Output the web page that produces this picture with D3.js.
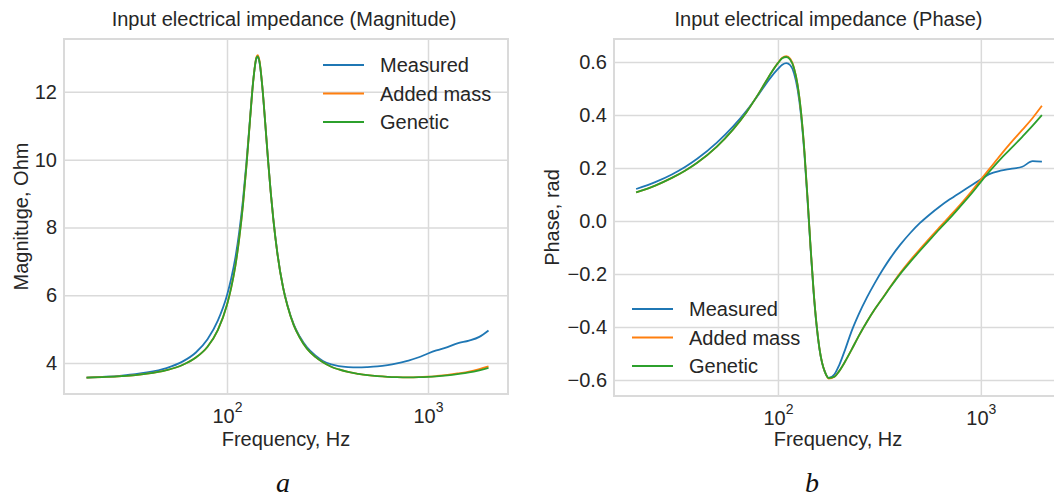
<!DOCTYPE html>
<html>
<head>
<meta charset="utf-8">
<script src="https://cdn.jsdelivr.net/npm/d3@7"></script>
<style>
  body { margin: 0; background: #ffffff; }
  svg { display: block; font-family: "Liberation Sans", Arial, sans-serif; }
</style>
</head>
<body>
<svg id="chart" width="1054" height="500"></svg>
<script>
// frequency grid, Hz
const freqs = [20, 25, 30, 35, 40, 50, 60, 70, 80, 90,
  100, 105, 110, 115, 120, 125, 130, 135, 140, 142,
  145, 150, 155, 160, 165, 170, 178, 190, 200, 215,
  230, 250, 275, 300, 330, 360, 400, 450, 500, 560,
  630, 700, 800, 900, 1000, 1100, 1250, 1400, 1600, 1800, 2000];

// |Z|, Ohm
const magMeasured = [3.57, 3.595, 3.63, 3.67, 3.72, 3.85, 4.04, 4.31, 4.7, 5.25,
  6.0, 6.5, 7.1, 7.86, 8.8, 9.93, 11.17, 12.33, 12.98, 13.03,
  12.88, 12.12, 11.06, 9.99, 9.04, 8.25, 7.25, 6.24, 5.7, 5.13,
  4.78, 4.46, 4.22, 4.06, 3.96, 3.91, 3.88, 3.87, 3.88, 3.9,
  3.94, 3.99, 4.07, 4.17, 4.28, 4.37, 4.47, 4.58, 4.66, 4.77, 4.96];
const magAdded = [3.57, 3.59, 3.615, 3.645, 3.685, 3.79, 3.94, 4.16, 4.48, 4.97,
  5.72, 6.23, 6.86, 7.67, 8.65, 9.83, 11.13, 12.31, 13.02, 13.08,
  12.93, 12.13, 11.07, 9.99, 9.04, 8.24, 7.24, 6.23, 5.68, 5.11,
  4.75, 4.42, 4.18, 4.02, 3.89, 3.81, 3.735, 3.68, 3.64, 3.61,
  3.59, 3.58, 3.575, 3.58, 3.595, 3.615, 3.648, 3.69, 3.745, 3.82, 3.9];
const magGenetic = [3.57, 3.59, 3.615, 3.645, 3.685, 3.79, 3.94, 4.16, 4.48, 4.97,
  5.72, 6.23, 6.86, 7.67, 8.65, 9.83, 11.13, 12.31, 13.0, 13.05,
  12.9, 12.13, 11.07, 9.99, 9.04, 8.24, 7.24, 6.23, 5.68, 5.11,
  4.75, 4.42, 4.18, 4.02, 3.89, 3.81, 3.735, 3.68, 3.64, 3.61,
  3.59, 3.58, 3.575, 3.58, 3.59, 3.605, 3.635, 3.67, 3.72, 3.785, 3.855];

// phase, rad
const phaseMeasured = [0.121, 0.148, 0.176, 0.205, 0.235, 0.296, 0.356, 0.416, 0.476, 0.532,
  0.574, 0.59, 0.596, 0.588, 0.558, 0.497, 0.398, 0.255, 0.075, 0.0,
  -0.11, -0.272, -0.394, -0.48, -0.535, -0.567, -0.592, -0.578, -0.545, -0.482,
  -0.418, -0.352, -0.287, -0.234, -0.181, -0.137, -0.09, -0.044, -0.008, 0.025,
  0.056, 0.081, 0.11, 0.135, 0.158, 0.177, 0.19, 0.197, 0.205, 0.226, 0.224];
const phaseAdded = [0.108, 0.135, 0.163, 0.191, 0.22, 0.281, 0.345, 0.411, 0.479, 0.544,
  0.597, 0.616, 0.622, 0.612, 0.578, 0.514, 0.411, 0.265, 0.084, 0.008,
  -0.104, -0.267, -0.391, -0.478, -0.534, -0.567, -0.594, -0.587, -0.567, -0.528,
  -0.487, -0.434, -0.379, -0.333, -0.287, -0.245, -0.196, -0.147, -0.107, -0.064,
  -0.021, 0.017, 0.066, 0.112, 0.157, 0.196, 0.249, 0.294, 0.344, 0.389, 0.435];
const phaseGenetic = [0.108, 0.135, 0.163, 0.191, 0.22, 0.281, 0.345, 0.411, 0.479, 0.544,
  0.596, 0.614, 0.619, 0.609, 0.577, 0.514, 0.411, 0.265, 0.084, 0.008,
  -0.104, -0.267, -0.391, -0.478, -0.534, -0.567, -0.592, -0.587, -0.567, -0.528,
  -0.487, -0.434, -0.379, -0.333, -0.288, -0.247, -0.2, -0.153, -0.113, -0.071,
  -0.028, 0.009, 0.059, 0.104, 0.148, 0.186, 0.234, 0.272, 0.318, 0.36, 0.40];

const seriesNames = ["Measured", "Added mass", "Genetic"];
const magTicks = [4, 6, 8, 10, 12];
const phaseTicks = [-0.6, -0.4, -0.2, 0.0, 0.2, 0.4, 0.6];
const freqTicks = [100, 1000];

// tab10 colours, seaborn whitegrid look
const lineColors = ["#1f77b4", "#ff7f0e", "#2ca02c"];
const textColor = "#262626";
const gridColor = "#dadada";
const fontSize = "20px";

const svg = d3.select("#chart");

const toPoints = (values) => freqs.map((f, i) => ({ f: f, v: values[i] }));

const drawPanel = (cfg) => {
  const x = d3.scaleLog().domain(cfg.xDomain).range([cfg.left, cfg.right]);
  const y = d3.scaleLinear().domain(cfg.yDomain).range([cfg.bottom, cfg.top]);
  const g = svg.append("g");

  // horizontal grid + y labels
  g.append("g")
    .attr("transform", `translate(${cfg.left},0)`)
    .call(d3.axisLeft(y)
      .tickValues(cfg.yTicks)
      .tickSize(-(cfg.right - cfg.left))
      .tickPadding(7)
      .tickFormat(cfg.yFormat))
    .call((a) => a.select(".domain").remove())
    .call((a) => a.selectAll("line").attr("stroke", gridColor).attr("stroke-width", 1.5))
    .call((a) => a.selectAll("text")
      .attr("fill", textColor)
      .style("font-size", fontSize)
      .style("font-family", "Liberation Sans, Arial, sans-serif"));

  // vertical grid + 10^n labels
  const xAxis = g.append("g")
    .attr("transform", `translate(0,${cfg.bottom})`)
    .call(d3.axisBottom(x)
      .tickValues(freqTicks)
      .tickSize(-(cfg.bottom - cfg.top))
      .tickFormat(""))
    .call((a) => a.select(".domain").remove())
    .call((a) => a.selectAll("line").attr("stroke", gridColor).attr("stroke-width", 1.5));

  xAxis.selectAll(".tick").each(function (d) {
    const t = d3.select(this).append("text")
      .attr("y", 29)
      .attr("text-anchor", "middle")
      .attr("fill", textColor)
      .style("font-family", "Liberation Sans, Arial, sans-serif");
    t.append("tspan").style("font-size", fontSize).text("10");
    t.append("tspan")
      .attr("dy", -11)
      .style("font-size", "14px")
      .text(String(Math.round(Math.log10(d))));
  });

  // frame
  g.append("rect")
    .attr("x", cfg.left)
    .attr("y", cfg.top)
    .attr("width", cfg.right - cfg.left)
    .attr("height", cfg.bottom - cfg.top)
    .attr("fill", "none")
    .attr("stroke", gridColor)
    .attr("stroke-width", 2);

  // curves
  const line = d3.line()
    .x((p) => x(p.f))
    .y((p) => y(p.v))
    .curve(d3.curveMonotoneX);

  cfg.series.forEach((values, i) => {
    g.append("path")
      .datum(toPoints(values))
      .attr("d", line)
      .attr("fill", "none")
      .attr("stroke", lineColors[i])
      .attr("stroke-width", 1.8);
  });

  // title
  g.append("text")
    .attr("x", cfg.titleX)
    .attr("y", 25.5)
    .attr("text-anchor", "middle")
    .attr("fill", textColor)
    .style("font-size", fontSize)
    .text(cfg.title);

  // x label
  g.append("text")
    .attr("x", (cfg.left + cfg.right) / 2)
    .attr("y", 446)
    .attr("text-anchor", "middle")
    .attr("fill", textColor)
    .style("font-size", fontSize)
    .text("Frequency, Hz");

  // y label
  g.append("text")
    .attr("transform", `translate(${cfg.ylabelX},${(cfg.top + cfg.bottom) / 2}) rotate(-90)`)
    .attr("text-anchor", "middle")
    .attr("fill", textColor)
    .style("font-size", fontSize)
    .text(cfg.ylabel);

  // legend
  seriesNames.forEach((name, i) => {
    const ly = cfg.legendY + i * 28.5;
    g.append("line")
      .attr("x1", cfg.legendX)
      .attr("x2", cfg.legendX + 41)
      .attr("y1", ly)
      .attr("y2", ly)
      .attr("stroke", lineColors[i])
      .attr("stroke-width", 2);
    g.append("text")
      .attr("x", cfg.legendX + 57)
      .attr("y", ly + 7)
      .attr("fill", textColor)
      .style("font-size", fontSize)
      .text(name);
  });

  // sub caption
  g.append("text")
    .attr("x", cfg.captionX)
    .attr("y", 492)
    .attr("text-anchor", "middle")
    .attr("fill", "#111111")
    .style("font-family", "Liberation Serif, Times New Roman, serif")
    .style("font-style", "italic")
    .style("font-size", "28px")
    .text(cfg.caption);
};

const minusFormat = (d) => d3.format(".1f")(d).replace("-", "\u2212");

drawPanel({
  left: 64, right: 508, top: 39, bottom: 394,
  xDomain: [Math.pow(10, 1.189), Math.pow(10, 3.398)],
  yDomain: [3.085, 13.56],
  yTicks: magTicks,
  yFormat: d3.format("d"),
  series: [magMeasured, magAdded, magGenetic],
  title: "Input electrical impedance (Magnitude)",
  titleX: 284,
  ylabel: "Magnituge, Ohm",
  ylabelX: 28,
  legendX: 323,
  legendY: 65,
  caption: "a",
  captionX: 283
});

drawPanel({
  left: 614, right: 1062, top: 39, bottom: 396,
  xDomain: [Math.pow(10, 1.192), Math.pow(10, 3.4)],
  yDomain: [-0.66, 0.687],
  yTicks: phaseTicks,
  yFormat: minusFormat,
  series: [phaseMeasured, phaseAdded, phaseGenetic],
  title: "Input electrical impedance (Phase)",
  titleX: 828.5,
  ylabel: "Phase, rad",
  ylabelX: 559,
  legendX: 632,
  legendY: 309,
  caption: "b",
  captionX: 812
});
</script>
</body>
</html>
